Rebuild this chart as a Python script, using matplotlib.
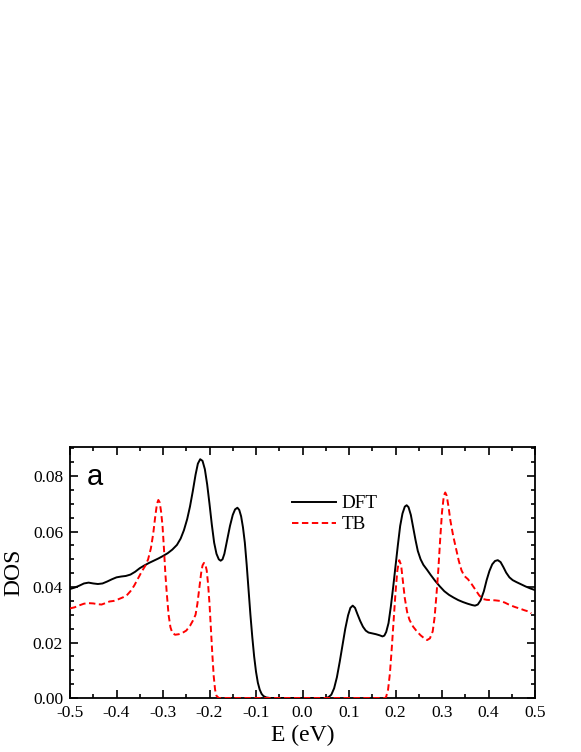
import matplotlib
matplotlib.use("Agg")
import matplotlib.pyplot as plt
from matplotlib.ticker import MultipleLocator, FormatStrFormatter

# DFT density of states
dft_E = [-0.500, -0.490, -0.480, -0.470, -0.460, -0.450, -0.440, -0.430, -0.420, -0.410,
         -0.400, -0.390, -0.380, -0.370, -0.360, -0.350, -0.340, -0.330, -0.320, -0.310,
         -0.300, -0.290, -0.280, -0.270, -0.262, -0.255, -0.248, -0.242, -0.236, -0.230,
         -0.225, -0.220, -0.215, -0.210, -0.205, -0.200, -0.195, -0.190, -0.185, -0.180,
         -0.176, -0.172, -0.168, -0.162, -0.156, -0.150, -0.145, -0.140, -0.136, -0.132,
         -0.128, -0.124, -0.120, -0.116, -0.112, -0.108, -0.104, -0.100, -0.096, -0.092,
         -0.088, -0.084, -0.078, -0.070, 0.000, 0.050, 0.056, 0.062, 0.068, 0.074,
         0.080, 0.086, 0.092, 0.098, 0.103, 0.108, 0.113, 0.118, 0.124, 0.130,
         0.136, 0.142, 0.150, 0.158, 0.166, 0.172, 0.176, 0.180, 0.185, 0.190,
         0.195, 0.200, 0.205, 0.210, 0.215, 0.220, 0.224, 0.228, 0.233, 0.238,
         0.243, 0.248, 0.254, 0.260, 0.268, 0.276, 0.285, 0.295, 0.305, 0.315,
         0.325, 0.335, 0.345, 0.355, 0.365, 0.371, 0.377, 0.383, 0.390, 0.396,
         0.402, 0.408, 0.414, 0.420, 0.426, 0.432, 0.438, 0.445, 0.452, 0.460,
         0.470, 0.480, 0.490, 0.500]
dft_D = [0.0393, 0.0398, 0.0405, 0.0413, 0.0416, 0.0413, 0.0411, 0.0413, 0.0420, 0.0428,
         0.0435, 0.0438, 0.0440, 0.0445, 0.0455, 0.0468, 0.0478, 0.0487, 0.0495, 0.0503,
         0.0512, 0.0522, 0.0535, 0.0552, 0.0575, 0.0605, 0.0645, 0.0690, 0.0745, 0.0805,
         0.0845, 0.0861, 0.0855, 0.0825, 0.0770, 0.0700, 0.0625, 0.0560, 0.0520, 0.0500,
         0.0495, 0.0500, 0.0520, 0.0570, 0.0620, 0.0660, 0.0680, 0.0686, 0.0678, 0.0655,
         0.0615, 0.0560, 0.0480, 0.0390, 0.0300, 0.0220, 0.0150, 0.0095, 0.0055, 0.0030,
         0.0015, 0.0007, 0.0002, 0.0000, 0.0000, 0.0000, 0.0003, 0.0012, 0.0035, 0.0075,
         0.0130, 0.0190, 0.0250, 0.0298, 0.0325, 0.0333, 0.0325, 0.0303, 0.0278, 0.0257,
         0.0243, 0.0236, 0.0233, 0.0230, 0.0226, 0.0222, 0.0225, 0.0238, 0.0270, 0.0330,
         0.0400, 0.0475, 0.0550, 0.0620, 0.0665, 0.0690, 0.0695, 0.0688, 0.0660, 0.0615,
         0.0570, 0.0530, 0.0500, 0.0480, 0.0462, 0.0443, 0.0423, 0.0403, 0.0385, 0.0372,
         0.0362, 0.0353, 0.0346, 0.0340, 0.0335, 0.0333, 0.0337, 0.0352, 0.0385, 0.0425,
         0.0458, 0.0482, 0.0494, 0.0497, 0.0490, 0.0472, 0.0452, 0.0435, 0.0425, 0.0418,
         0.0410, 0.0402, 0.0395, 0.0389]

# Tight-binding density of states
tb_E = [-0.500, -0.490, -0.480, -0.470, -0.460, -0.450, -0.440, -0.432, -0.424, -0.415,
        -0.406, -0.396, -0.386, -0.378, -0.370, -0.362, -0.354, -0.346, -0.338, -0.332,
        -0.326, -0.321, -0.317, -0.313, -0.310, -0.307, -0.304, -0.301, -0.298, -0.295,
        -0.292, -0.288, -0.284, -0.280, -0.274, -0.266, -0.258, -0.250, -0.242, -0.236,
        -0.230, -0.226, -0.222, -0.218, -0.215, -0.212, -0.209, -0.206, -0.203, -0.200,
        -0.197, -0.194, -0.191, -0.188, -0.185, -0.180, 0.000, 0.178, 0.180, 0.184,
        0.188, 0.192, 0.196, 0.200, 0.204, 0.208, 0.212, 0.216, 0.220, 0.225,
        0.230, 0.238, 0.246, 0.254, 0.262, 0.268, 0.274, 0.280, 0.284, 0.288,
        0.292, 0.296, 0.300, 0.304, 0.307, 0.310, 0.314, 0.318, 0.324, 0.330,
        0.336, 0.342, 0.348, 0.356, 0.364, 0.372, 0.380, 0.388, 0.396, 0.405,
        0.415, 0.425, 0.435, 0.446, 0.457, 0.468, 0.478, 0.486, 0.492]
tb_D = [0.0323, 0.0327, 0.0334, 0.0340, 0.0342, 0.0341, 0.0338, 0.0337, 0.0342, 0.0348,
        0.0350, 0.0356, 0.0363, 0.0370, 0.0385, 0.0405, 0.0430, 0.0455, 0.0477, 0.0500,
        0.0540, 0.0593, 0.0650, 0.0700, 0.0714, 0.0705, 0.0670, 0.0620, 0.0540, 0.0450,
        0.0380, 0.0300, 0.0255, 0.0235, 0.0228, 0.0230, 0.0235, 0.0243, 0.0260, 0.0278,
        0.0300, 0.0340, 0.0395, 0.0450, 0.0478, 0.0487, 0.0482, 0.0460, 0.0410, 0.0340,
        0.0250, 0.0160, 0.0080, 0.0030, 0.0008, 0.0000, 0.0000, 0.0000, 0.0005, 0.0030,
        0.0089, 0.0180, 0.0280, 0.0380, 0.0460, 0.0497, 0.0480, 0.0420, 0.0360, 0.0310,
        0.0282, 0.0257, 0.0240, 0.0226, 0.0215, 0.0209, 0.0215, 0.0240, 0.0290, 0.0370,
        0.0460, 0.0570, 0.0670, 0.0730, 0.0741, 0.0730, 0.0690, 0.0640, 0.0585, 0.0540,
        0.0495, 0.0460, 0.0440, 0.0428, 0.0410, 0.0390, 0.0370, 0.0357, 0.0354, 0.0353,
        0.0352, 0.0350, 0.0344, 0.0335, 0.0328, 0.0322, 0.0316, 0.0312, 0.0305]

x_ticks = [-0.5, -0.4, -0.3, -0.2, -0.1, 0.0, 0.1, 0.2, 0.3, 0.4, 0.5]
y_ticks = [0.00, 0.02, 0.04, 0.06, 0.08]

plt.rcParams['font.family'] = ['Liberation Serif', 'DejaVu Serif']

fig = plt.figure(figsize=(5.81, 7.52), dpi=100)
ax = fig.add_axes([70/581, 54/752, 465/581, 251/752])

ax.plot(dft_E, dft_D, color='black', lw=1.4, label='DFT', zorder=3)
ax.plot(tb_E, tb_D, color='red', lw=1.4, dashes=(3.3, 1.8), label='TB', zorder=3)

ax.set_xlim(-0.5, 0.5)
ax.set_ylim(0, 0.0905)
ax.set_xticks(x_ticks)
ax.set_yticks(y_ticks)
ax.xaxis.set_major_formatter(FormatStrFormatter('%.1f'))
ax.yaxis.set_major_formatter(FormatStrFormatter('%.2f'))
ax.xaxis.set_minor_locator(MultipleLocator(0.05))
ax.yaxis.set_minor_locator(MultipleLocator(0.005))
ax.tick_params(which='both', direction='in', top=True, right=True, width=1.2,
               labelsize=12.5, pad=5)
ax.tick_params(which='major', length=5.5)
ax.tick_params(which='minor', length=3)
for s in ax.spines.values():
    s.set_linewidth(1.3)

ax.set_xlabel('E (eV)', fontsize=17, labelpad=3)
ax.set_ylabel('DOS', fontsize=17, labelpad=6)

ax.text(0.035, 0.88, 'a', transform=ax.transAxes, fontsize=21,
        family=['Liberation Sans', 'DejaVu Sans'], va='center', ha='left')

leg = ax.legend(loc='upper left', bbox_to_anchor=(0.46, 0.84), frameon=False,
                fontsize=13.8, handlelength=2.3, handletextpad=0.3,
                labelspacing=0.2, borderaxespad=0)

fig.savefig('out.png', dpi=100)
